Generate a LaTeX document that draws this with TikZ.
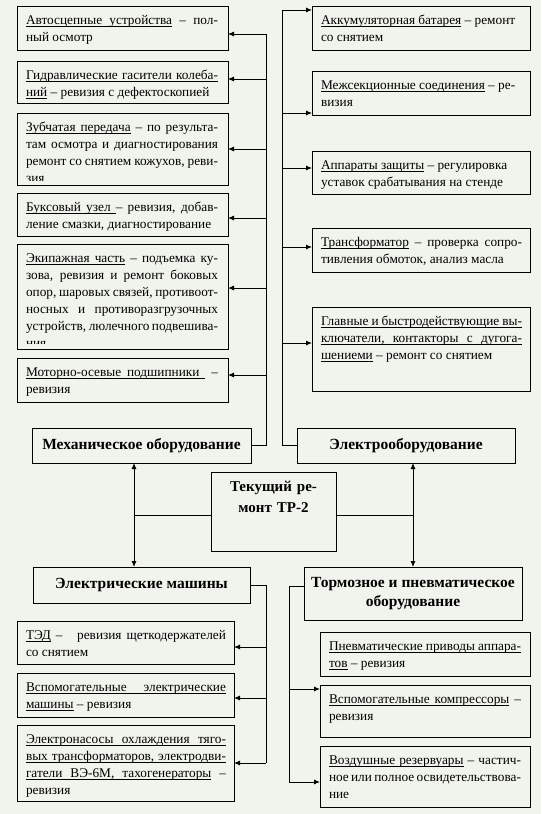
\documentclass[tikz,border=0pt]{standalone}
\usepackage{fontspec}
\setmainfont{Liberation Serif}
\usetikzlibrary{arrows.meta,shadows}
\definecolor{bg}{HTML}{F1F4EC}
\newcommand{\bodyfont}{\fontsize{13.3}{17}\selectfont}
\newcommand{\headfont}{\fontsize{15.5}{19}\selectfont\bfseries}
\tolerance=10000
\hyphenpenalty=10000
\exhyphenpenalty=10000
% home-made underline with stretchable underlined spaces
\def\ulw#1{\setbox0\hbox{#1}\leavevmode\rlap{\vrule height -1.5pt depth 2.4pt width \wd0\relax}\box0\relax}
\def\ulsp{\leaders\hrule height -1.5pt depth 2.4pt\hskip\fontdimen2\font plus\fontdimen3\font minus\fontdimen4\font\relax}
\def\ul#1{\ulA#1 \ulend}
\def\ulA#1 #2\ulend{\ulw{#1}\if\relax\detokenize{#2}\relax\else\ulsp\ulA#2\ulend\fi}
% name x1 y1 x2 y2 textwidth bottom-clip-inset text
\newcommand{\tbox}[8]{%
  \node[box, minimum width=#4pt-#2pt, minimum height=#5pt-#3pt,
    path picture={\clip ([yshift=#7pt]path picture bounding box.south west) rectangle (path picture bounding box.north east);
      \node[inner, anchor=north west, text width=#6pt,
      align=justify, font=\bodyfont]
      at ([xshift=9pt,yshift=-7pt]path picture bounding box.north west) {\parindent=0pt\noindent\strut #8};}]
    (#1) at (#2,#3) {};}
\begin{document}
\begin{tikzpicture}[x=1pt,y=-1pt,
  box/.style={draw=black, line width=0.9pt, fill=bg, anchor=north west, inner sep=0pt, outer sep=0pt,
    drop shadow={shadow xshift=1.2pt, shadow yshift=-1.2pt, fill=black!45, opacity=1}},
  inner/.style={draw=none, fill=none, inner sep=0pt, outer sep=0pt, minimum width=0pt, minimum height=0pt},
  head/.style={box, font=\headfont, align=center},
  conn/.style={draw=black, line width=0.9pt},
  arr/.style={conn, -{Latex[length=6pt,width=5pt]}},
  dbl/.style={conn, {Latex[length=6pt,width=5pt]}-{Latex[length=6pt,width=5pt]}}]
\fill[bg] (0,0) rectangle (541,814);
\useasboundingbox (0,0) rectangle (541,814);

% left column
\tbox{L1}{17}{6}{228}{50}{192}{0}{\ul{Автосцепные устройства} – пол-\linebreak ный осмотр}
\tbox{L2}{17}{61}{228}{103}{192}{0}{\setlength\baselineskip{14pt}\ul{Гидравлические гасители колеба-}\linebreak \ul{ний} – ревизия с дефектоскопией}
\tbox{L3}{17}{113}{228}{185}{192}{5}{\ul{Зубчатая передача} – по результа-\linebreak там осмотра и диагностирования\linebreak ремонт со снятием кожухов, реви-\linebreak зия}
\tbox{L4}{17}{193}{228}{236}{192}{0}{\ul{Буксовый узел}\ulsp– ревизия, добав-\linebreak ление смазки, диагностирование}
\tbox{L5}{17}{244}{228}{349}{192}{6}{\ul{Экипажная часть} – подъемка ку-\linebreak зова, ревизия и ремонт боковых\linebreak опор, шаровых связей, противоот-\linebreak носных и противоразгрузочных\linebreak устройств, люлечного подвешива-\linebreak ния}
\tbox{L6}{17}{358}{228}{402}{192}{0}{\ul{Моторно-осевые подшипники}\ulsp\ –\linebreak ревизия}

% right column
\tbox{R1}{312}{6}{530}{50}{201}{0}{\ul{Аккумуляторная батарея} – ремонт\newline со снятием}
\tbox{R2}{312}{71}{530}{115}{201}{0}{\ul{Межсекционные соединения} – ре-\newline визия}
\tbox{R3}{312}{151}{530}{194}{201}{0}{\ul{Аппараты защиты} – регулировка\newline уставок срабатывания на стенде}
\tbox{R4}{312}{228}{530}{272}{201}{0}{\ul{Трансформатор} – проверка сопро-\linebreak тивления обмоток, анализ масла}
\tbox{R5}{312}{307}{530}{391}{201}{0}{\ul{Главные и быстродействующие вы-}\linebreak \ul{ключатели, контакторы с дугога-}\linebreak \ul{шениеми} – ремонт со снятием}

% headings
\node[head, minimum width=219pt, minimum height=35pt] (mech) at (32,428) {Механическое оборудование};
\node[head, minimum width=218pt, minimum height=35pt] (elec) at (297,428) {Электрооборудование};
\node[box, minimum width=125pt, minimum height=79pt,
  path picture={\node[inner, anchor=north, text width=115pt, align=center,
    font=\fontsize{15}{21}\selectfont\bfseries]
    at ([yshift=-4.5pt]path picture bounding box.north) {\strut Текущий ре-\\монт ТР-2};}] (center) at (211,472) {};
\node[head, minimum width=217pt, minimum height=36pt] (em) at (33,567) {Электрические машины};
\node[head, minimum width=218pt, minimum height=53pt] (torm) at (304,567) {Тормозное и пневматическое\\оборудование};

% bottom left
\tbox{B1}{17}{621}{234}{664}{200}{0}{\ul{ТЭД} –\ \ \ ревизия щеткодержателей\linebreak со снятием}
\tbox{B2}{17}{673}{234}{717}{200}{0}{\ul{Вспомогательные электрические}\linebreak \ul{машины} – ревизия}
\tbox{B3}{17}{725}{234}{801}{200}{0}{\ul{Электронасосы охлаждения тяго-}\linebreak \ul{вых трансформаторов, электродви-}\linebreak \ul{гатели ВЭ-6М, тахогенераторы} –\linebreak ревизия}

% bottom right
\tbox{P1}{320}{632}{530}{676}{192}{0}{\ul{Пневматические приводы аппара-}\linebreak \ul{тов} – ревизия}
\tbox{P2}{320}{685}{530}{737}{192}{0}{\ul{Вспомогательные компрессоры} –\linebreak ревизия}
\tbox{P3}{320}{746}{530}{807}{192}{0}{\ul{Воздушные резервуары} – частич-\linebreak ное или полное освидетельствова-\linebreak ние}

% left bus (mechanical)
\coordinate (lbt) at (266,34);
\draw[conn] (mech.east) -| (lbt);
\foreach \n/\y in {L1/34,L2/79,L3/149,L4/218,L5/288,L6/375}{
  \coordinate (c\n) at (266,\y);
  \draw[arr] (c\n) -- (c\n -| \n.east);}

% right bus (electrical)
\coordinate (rbt) at (282,10);
\draw[conn] (elec.west) -| (rbt);
\foreach \n/\y in {R1/10,R2/113,R3/168,R4/247,R5/343}{
  \coordinate (c\n) at (282,\y);
  \draw[arr] (c\n) -- (c\n -| \n.west);}

% centre connections
\coordinate (va) at (134,515);
\coordinate (vb) at (413,515);
\draw[conn] ([yshift=-3.5pt]center.west) -- (va);
\draw[conn] ([yshift=-3.5pt]center.east) -- (vb);
\draw[dbl] (va |- mech.south) -- (va |- em.north);
\draw[dbl] (vb |- elec.south) -- (vb |- torm.north);

% electrical machines bus
\coordinate (ebt) at (266,763);
\draw[conn] (em.east) -| (ebt);
\foreach \n/\y in {B1/647,B2/698,B3/763}{
  \coordinate (c\n) at (266,\y);
  \draw[arr] (c\n) -- (c\n -| \n.east);}

% brake bus
\coordinate (tbt) at (289,782);
\draw[conn] ([yshift=7.5pt]torm.west) -| (tbt);
\foreach \n/\y in {P2/689,P3/782}{
  \coordinate (c\n) at (289,\y);
  \draw[arr] (c\n) -- (c\n -| \n.west);}
\end{tikzpicture}
\end{document}
